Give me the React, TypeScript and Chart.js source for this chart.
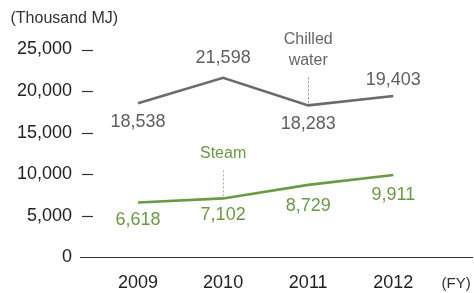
import React, { useEffect, useRef } from 'react';
import { Chart, registerables } from 'chart.js';

Chart.register(...registerables);

// ---- data ----
const years = ['2009', '2010', '2011', '2012'];
const chilledWater = [18538, 21598, 18283, 19403];
const steam = [6618, 7102, 8729, 9911];
const yTicks = [0, 5000, 10000, 15000, 20000, 25000];
const unitLabel = '(Thousand MJ)';
const fyLabel = '(FY)';
const chilledName = ['Chilled', 'water'];
const steamName = ['Steam'];

// ---- styling ----
const FONT = '"Liberation Sans", Arial, Helvetica, sans-serif';
const AXIS_TEXT = '#222222';
const GRAY_LINE = '#6b6b6b';
const GRAY_TEXT = '#5f5f5f';
const GREEN = '#6c9946';
const chilledLabelOffsets = [19, -19.5, 18.5, -16];
const steamLabelOffsets = [17.5, 17, 21, 20];

const fmt = (v: number) => Math.round(v).toLocaleString('en-US');

const decorPlugin = {
  id: 'decor',
  afterDraw(chart: any) {
    const ctx = chart.ctx as CanvasRenderingContext2D;
    const area = chart.chartArea;
    const yScale = chart.scales.y;
    const xScale = chart.scales.x;
    ctx.save();

    // y tick dashes
    ctx.strokeStyle = '#333';
    ctx.lineWidth = 1.2;
    yTicks.forEach((v) => {
      if (v === 0) return;
      const y = Math.round(yScale.getPixelForValue(v)) + 0.5;
      ctx.beginPath();
      ctx.moveTo(area.left + 2, y);
      ctx.lineTo(area.left + 13, y);
      ctx.stroke();
    });

    // data labels
    const drawLabels = (dsIndex: number, values: number[], offs: number[], color: string) => {
      const meta = chart.getDatasetMeta(dsIndex);
      ctx.fillStyle = color;
      ctx.font = `18px ${FONT}`;
      ctx.textAlign = 'center';
      ctx.textBaseline = 'middle';
      meta.data.forEach((pt: any, i: number) => {
        ctx.fillText(fmt(values[i]), pt.x, pt.y + offs[i]);
      });
    };
    drawLabels(0, chilledWater, chilledLabelOffsets, GRAY_TEXT);
    drawLabels(1, steam, steamLabelOffsets, GREEN);

    // series name annotations
    const annotate = (dsIndex: number, idx: number, lines: string[], textColor: string, lineColor: string) => {
      const pt: any = chart.getDatasetMeta(dsIndex).data[idx];
      ctx.strokeStyle = lineColor;
      ctx.lineWidth = 1;
      ctx.setLineDash([2, 2]);
      ctx.beginPath();
      const x = Math.round(pt.x) + 0.5;
      ctx.moveTo(x, pt.y - 2);
      ctx.lineTo(x, pt.y - 30);
      ctx.stroke();
      ctx.setLineDash([]);
      ctx.fillStyle = textColor;
      ctx.font = `16px ${FONT}`;
      ctx.textAlign = 'center';
      ctx.textBaseline = 'alphabetic';
      const n = lines.length;
      lines.forEach((ln, k) => {
        ctx.fillText(ln, pt.x, pt.y - 40 - (n - 1 - k) * 21.7);
      });
    };
    annotate(0, 2, chilledName, '#666666', '#9a9a9a');
    annotate(1, 1, steamName, GREEN, '#9dbb85');

    // unit label
    ctx.fillStyle = '#333';
    ctx.font = `16px ${FONT}`;
    ctx.textAlign = 'left';
    ctx.textBaseline = 'middle';
    ctx.fillText(unitLabel, 10.5, 19);

    // FY label
    ctx.font = `15px ${FONT}`;
    ctx.textAlign = 'center';
    ctx.fillText(fyLabel, area.right - 16.5, xScale.bottom - 9.5);

    ctx.restore();
  },
};

export default function App() {
  const ref = useRef<HTMLCanvasElement | null>(null);
  useEffect(() => {
    if (!ref.current) return;
    const chart = new Chart(ref.current, {
      type: 'line',
      data: {
        datasets: [
          {
            label: 'Chilled water',
            data: chilledWater.map((v, i) => ({ x: i, y: v })),
            borderColor: GRAY_LINE,
            borderWidth: 2.6,
            pointRadius: 0,
            tension: 0,
            clip: false as any,
          },
          {
            label: 'Steam',
            data: steam.map((v, i) => ({ x: i, y: v })),
            borderColor: GREEN,
            borderWidth: 2.6,
            pointRadius: 0,
            tension: 0,
            clip: false as any,
          },
        ],
      },
      options: {
        animation: false,
        responsive: false,
        maintainAspectRatio: false,
        layout: { padding: { top: 49.5, right: 1.3, left: 0, bottom: 0 } },
        plugins: { legend: { display: false }, tooltip: { enabled: false } },
        scales: {
          x: {
            type: 'linear',
            min: -0.682,
            max: 3.933,
            afterBuildTicks: (s: any) => {
              s.ticks = years.map((_, i) => ({ value: i }));
            },
            ticks: {
              callback: (v: any) => years[v] ?? '',
              autoSkip: false,
              maxRotation: 0,
              padding: 15,
              color: AXIS_TEXT,
              font: { family: FONT, size: 18 },
            },
            grid: { display: false, drawTicks: false },
            border: { display: true, color: '#333', width: 1 },
            afterFit: (s: any) => {
              s.height = 35.5;
            },
          },
          y: {
            min: 0,
            max: 25000,
            afterBuildTicks: (s: any) => {
              s.ticks = yTicks.map((v) => ({ value: v }));
            },
            ticks: {
              callback: (v: any) => fmt(Number(v)),
              padding: 8,
              color: AXIS_TEXT,
              font: { family: FONT, size: 18 },
            },
            grid: { display: false, drawTicks: false },
            border: { display: false },
            afterFit: (s: any) => {
              s.width = 80;
            },
          },
        },
      },
      plugins: [decorPlugin],
    });
    return () => chart.destroy();
  }, []);
  return (
    <div style={{ position: 'absolute', left: 0, top: 0, width: 474, height: 293, background: '#fff' }}>
      <canvas ref={ref} width={474} height={293} style={{ width: 474, height: 293, display: 'block' }} />
    </div>
  );
}
